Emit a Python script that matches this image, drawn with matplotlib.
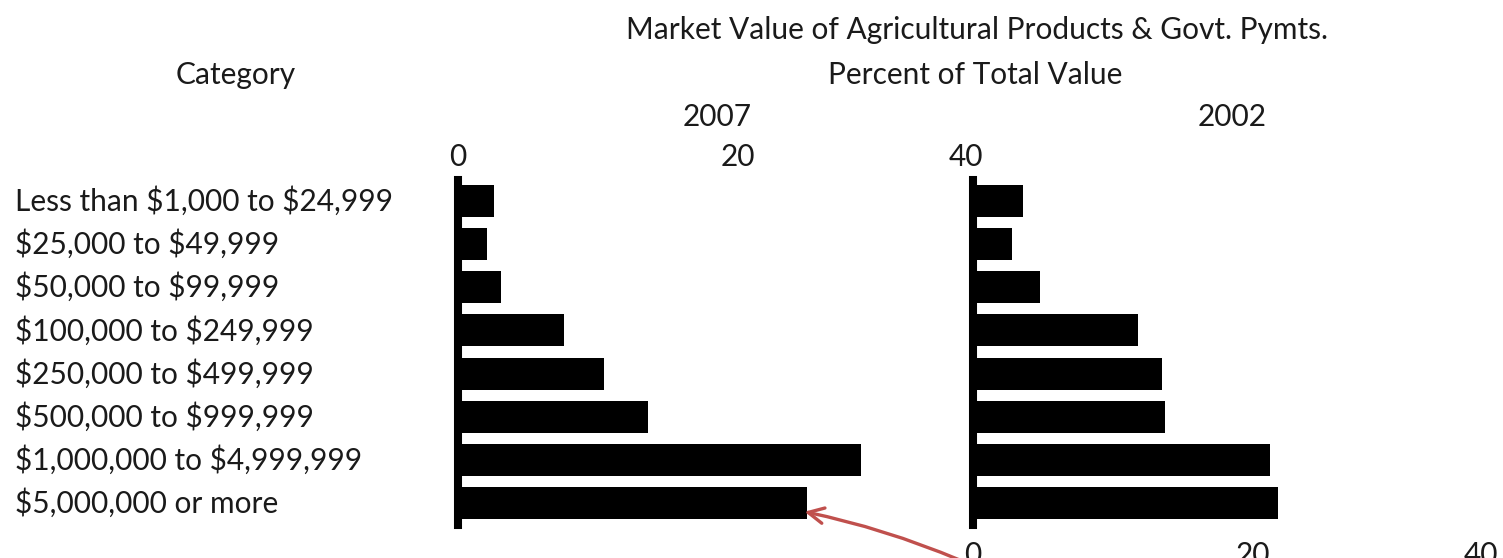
import matplotlib
matplotlib.use('Agg')
import matplotlib.pyplot as plt
from matplotlib.transforms import blended_transform_factory

categories = [
    "Less than $1,000 to $24,999",
    "$25,000 to $49,999",
    "$50,000 to $99,999",
    "$100,000 to $249,999",
    "$250,000 to $499,999",
    "$500,000 to $999,999",
    "$1,000,000 to $4,999,999",
    "$5,000,000 or more",
]
values_2007 = [2.6, 2.1, 3.1, 7.6, 10.5, 13.6, 28.8, 25.0]
values_2002 = [3.6, 2.8, 4.8, 11.8, 13.5, 13.7, 21.2, 21.8]
tick_values = [0, 20, 36.3]
tick_labels = ["0", "20", "40"]

W, H = 1503, 558
plt.rcParams['font.family'] = ['Lato', 'DejaVu Sans']
plt.rcParams['text.parse_math'] = False
fig = plt.figure(figsize=(W / 100, H / 100), dpi=100)
FS = 21.5
TXT = '#1a1a1a'


def ax_rect(x0, y0, x1, y1):
    return [x0 / W, 1 - y1 / H, (x1 - x0) / W, (y1 - y0) / H]


ax1 = fig.add_axes(ax_rect(457.5, 179.5, 965.5, 524.5))
ax2 = fig.add_axes(ax_rect(973, 179.5, 1481, 524.5))
for ax, vals in ((ax1, values_2007), (ax2, values_2002)):
    ax.barh(range(len(categories)), vals, height=0.74, color='black')
    ax.set_ylim(len(categories) - 0.5, -0.5)
    ax.set_xlim(0, 36.3)
    for s in ('top', 'right', 'bottom'):
        ax.spines[s].set_visible(False)
    ax.spines['left'].set_linewidth(5.8)
    ax.set_yticks([])
    ax.set_xticks(tick_values, tick_labels)
    ax.tick_params(axis='x', length=0, labelsize=FS, labelcolor=TXT)
    ax.patch.set_alpha(0)

ax1.xaxis.tick_top()
ax1.tick_params(axis='x', pad=6)
ax2.tick_params(axis='x', pad=12)

tr = blended_transform_factory(fig.transFigure, ax1.transData)
for i, c in enumerate(categories):
    ax1.text(15 / W, i, c, transform=tr, ha='left', va='center',
             fontsize=FS, color=TXT, parse_math=False)

fig.text(977 / W, 1 - 30 / H, "Market Value of Agricultural Products & Govt. Pymts.",
         ha='center', va='center', fontsize=FS, color=TXT)
fig.text(975 / W, 1 - 75 / H, "Percent of Total Value",
         ha='center', va='center', fontsize=FS, color=TXT)
fig.text(236 / W, 1 - 75 / H, "Category",
         ha='center', va='center', fontsize=FS, color=TXT)
fig.text(717 / W, 1 - 117 / H, "2007",
         ha='center', va='center', fontsize=FS, color=TXT)
fig.text(1232 / W, 1 - 117 / H, "2002",
         ha='center', va='center', fontsize=FS, color=TXT)

ax1.annotate('', xy=(values_2007[-1] - 0.4, 7.19), xycoords='data',
             xytext=(962, -3), textcoords='figure pixels',
             arrowprops=dict(arrowstyle='->', color='#C0504D', lw=2.4,
                             connectionstyle='arc3,rad=0.05', mutation_scale=28),
             annotation_clip=False)

fig.savefig('out.png', dpi=100)
